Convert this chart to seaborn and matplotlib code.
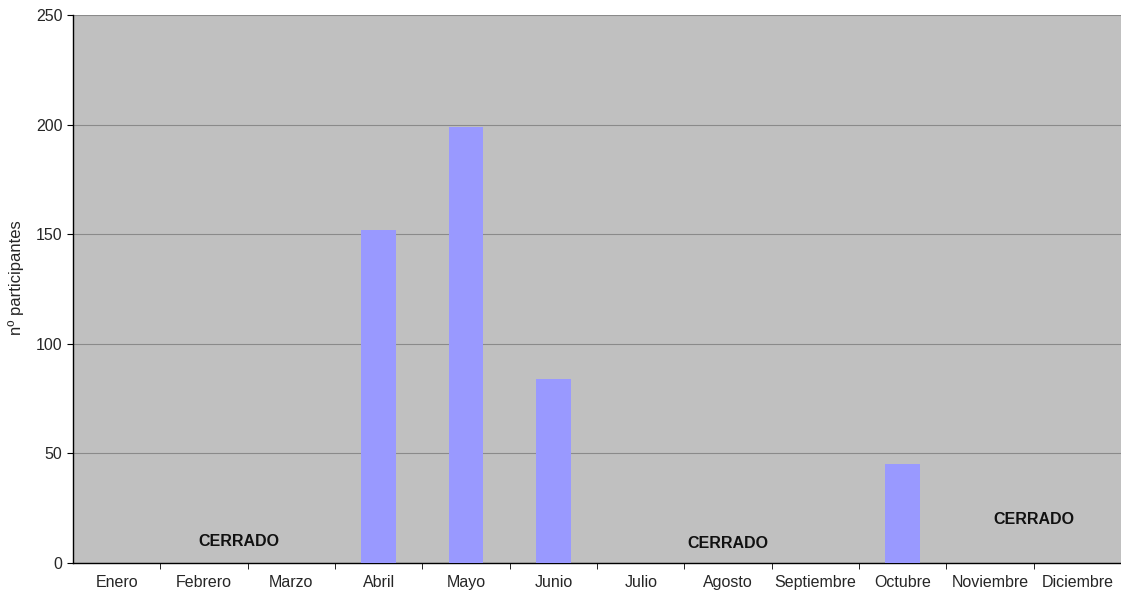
import pandas as pd
import matplotlib.pyplot as plt
import matplotlib.ticker as mticker
import seaborn as sns
import numpy as np

months = ["Enero", "Febrero", "Marzo", "Abril", "Mayo", "Junio", "Julio",
          "Agosto", "Septiembre", "Octubre", "Noviembre", "Diciembre"]
participants = [0, 0, 0, 152, 199, 84, 0, 0, 0, 45, 0, 0]

# "CERRADO" labels: x in category units, y in data units
closed_x = [1.4, 7.0, 10.5]
closed_y = [10, 9, 20]

df = pd.DataFrame({"Mes": months, "Participantes": participants})

sns.set_style("white")
plt.rcParams["font.family"] = ["Liberation Sans", "DejaVu Sans"]

fig = plt.figure(figsize=(11.21, 5.93), dpi=100)
ax = fig.add_axes([0.0651, 0.0506, 0.935, 0.924])
ax.set_facecolor("#c0c0c0")

sns.barplot(data=df, x="Mes", y="Participantes", color="#9999ff",
            width=0.4, saturation=1, linewidth=0, edgecolor="none", ax=ax, zorder=3)

ax.set_ylim(0, 250)
ax.set_xlim(-0.5, len(months) - 0.5)
ax.set_yticks(np.arange(0, 251, 50))
ax.tick_params(axis="y", labelsize=11.5, length=4, direction="out", left=True, color="black")
ax.yaxis.grid(True, color="#8a8a8a", linewidth=0.8, zorder=1)
ax.set_axisbelow(True)

# Excel style: ticks at category boundaries, labels at centres
ax.set_xticks(np.arange(len(months)))
ax.set_xticklabels(months, fontsize=11.5)
ax.tick_params(axis="x", which="major", length=0, pad=9)
ax.xaxis.set_minor_locator(mticker.FixedLocator(np.arange(0.5, len(months) - 0.5, 1)))
ax.tick_params(axis="x", which="minor", length=4, direction="out", bottom=True, color="black")

ax.set_xlabel("")
ax.set_ylabel("nº participantes", fontsize=12)
ax.yaxis.set_label_coords(-0.047, 0.52)

for s in ["top", "right"]:
    ax.spines[s].set_visible(False)
for s in ["left", "bottom"]:
    ax.spines[s].set_color("black")
    ax.spines[s].set_linewidth(1)

for x, y in zip(closed_x, closed_y):
    ax.text(x, y, "CERRADO", ha="center", va="center", fontsize=11.5,
            fontweight="bold", color="#111111", zorder=4)

fig.savefig("out.png", dpi=100)
